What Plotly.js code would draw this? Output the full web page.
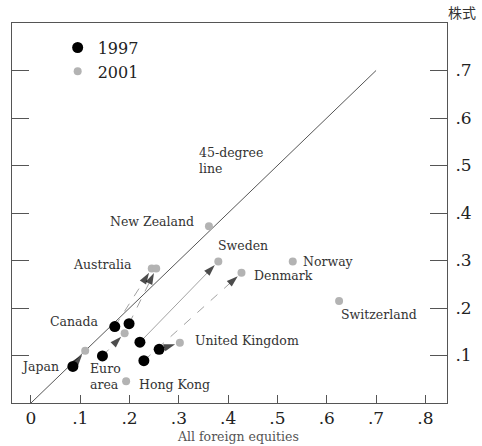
<!DOCTYPE html>
<html><head><meta charset="utf-8">
<script src="https://cdn.plot.ly/plotly-3.0.1.min.js"></script>
<style>body{margin:0;background:#fff}#chart{width:482px;height:446px}</style>
</head><body><div id="chart"></div>
<script>
// Countries with both 1997 and 2001 observations (arrow from 1997 to 2001)
const arrowCountries = ["Japan","Euro area","Canada","Australia","Sweden","United Kingdom","Denmark"];
const x1997 = [0.085, 0.145, 0.170, 0.199, 0.221, 0.260, 0.229];
const y1997 = [0.077, 0.099, 0.161, 0.167, 0.128, 0.113, 0.089];
const x2001 = [0.110, 0.190, 0.245, 0.254, 0.380, 0.302, 0.427];
const y2001 = [0.110, 0.147, 0.283, 0.283, 0.298, 0.127, 0.274];
// Countries with only 2001 observations
const otherCountries = ["Hong Kong","New Zealand","Norway","Switzerland"];
const xOther = [0.193, 0.361, 0.531, 0.625];
const yOther = [0.046, 0.372, 0.298, 0.215];
// 45-degree line
const diagX = [0, 0.7];
const diagY = [0, 0.7];
// tick labels
const xTickVals = [0, 0.1, 0.2, 0.3, 0.4, 0.5, 0.6, 0.7, 0.8];
const xTickText = ["0", ".1", ".2", ".3", ".4", ".5", ".6", ".7", ".8"];
const yTickVals = [0.1, 0.2, 0.3, 0.4, 0.5, 0.6, 0.7];
const yTickText = [".1", ".2", ".3", ".4", ".5", ".6", ".7"];

const SERIF = "DejaVu Serif, serif";
const dashes = ["solid","dash","dash","dash","solid","solid","dash"];

const traces = [];
traces.push({x: diagX, y: diagY, mode: "lines", line: {color: "#555", width: 1}, showlegend: false, hoverinfo: "skip"});
arrowCountries.forEach((c, i) => {
  traces.push({
    x: [x1997[i], x2001[i]], y: [y1997[i], y2001[i]],
    mode: "lines+markers", showlegend: false, hoverinfo: "skip",
    line: {color: "#8a8a8a", width: 0.8, dash: dashes[i]},
    marker: {symbol: ["circle", "arrow"], size: [0, 12], color: "#000", angleref: "previous", standoff: 5,
      line: {width: 0}}
  });
});
traces.push({x: x1997, y: y1997, text: arrowCountries, mode: "markers", name: "1997",
  marker: {color: "#000", size: 11}});
traces.push({x: x2001.concat(xOther), y: y2001.concat(yOther), text: arrowCountries.concat(otherCountries),
  mode: "markers", name: "2001", marker: {color: "#b3b3b3", size: 8}});

function lab(text, x, y, xanchor, xshift, yshift) {
  return {text, x, y, xref: "x", yref: "y", xanchor, yanchor: "middle", xshift, yshift, align: "left",
    showarrow: false, font: {family: SERIF, size: 12.5, color: "#333"}};
}
const annotations = [
  lab("Japan", x1997[0], y1997[0], "right", -12, 0),
  {text: "Euro<br>area", x: x1997[1], y: y1997[1], xref: "x", yref: "y", xanchor: "center", yanchor: "top",
    xshift: 3, yshift: -3, align: "left", showarrow: false, font: {family: SERIF, size: 12.5, color: "#333"}},
  lab("Canada", x1997[2], y1997[2], "right", -14, 5),
  lab("Australia", x2001[2], y2001[2], "right", -18, 4),
  lab("Sweden", x2001[4], y2001[4], "left", -2, 16),
  lab("United Kingdom", x2001[5], y2001[5], "left", 13, 2),
  lab("Denmark", x2001[6], y2001[6], "left", 11, -3),
  lab("Hong Kong", xOther[0], yOther[0], "left", 11, -3),
  lab("New Zealand", xOther[1], yOther[1], "right", -13, 5),
  lab("Norway", xOther[2], yOther[2], "left", 8, 0),
  lab("Switzerland", xOther[3], yOther[3], "left", 0, -14),
  lab("45-degree<br>line", 0.337, 0.511, "left", 0, 0),
  {text: "All foreign equities", xref: "paper", yref: "paper", x: 0.52, y: -0.088, xanchor: "center", yanchor: "middle",
    showarrow: false, font: {family: SERIF, size: 12.5, color: "#555"}},
  {text: "株式", xref: "paper", yref: "paper", x: 1.034, y: 1.029, xanchor: "center", yanchor: "middle",
    showarrow: false, font: {family: "Noto Sans CJK JP, sans-serif", size: 14, color: "#333"}}
];

const layout = {
  width: 482, height: 446,
  margin: {l: 12, r: 35, t: 23, b: 43, pad: 0},
  paper_bgcolor: "#fff", plot_bgcolor: "#fff",
  showlegend: true,
  legend: {x: 0.105, y: 0.98, xanchor: "left", yanchor: "top", bgcolor: "rgba(0,0,0,0)",
    font: {family: SERIF, size: 16, color: "#222"}},
  xaxis: {range: [-0.0385, 0.8439], showgrid: false, zeroline: false, showline: true, mirror: true,
    linecolor: "#555", linewidth: 1, ticks: "inside", ticklen: 8, tickcolor: "#555",
    tickvals: xTickVals, ticktext: xTickText, tickfont: {family: SERIF, size: 17, color: "#222"}},
  yaxis: {range: [0, 0.8], side: "right", showgrid: false, zeroline: false, showline: true, mirror: "ticks",
    linecolor: "#555", linewidth: 1, ticks: "inside", ticklen: 17, tickcolor: "#555",
    tickvals: yTickVals, ticktext: yTickText, ticklabelstandoff: 4,
    tickfont: {family: SERIF, size: 17, color: "#222"}},
  annotations
};
Plotly.newPlot("chart", traces, layout, {staticPlot: true});
</script></body></html>
